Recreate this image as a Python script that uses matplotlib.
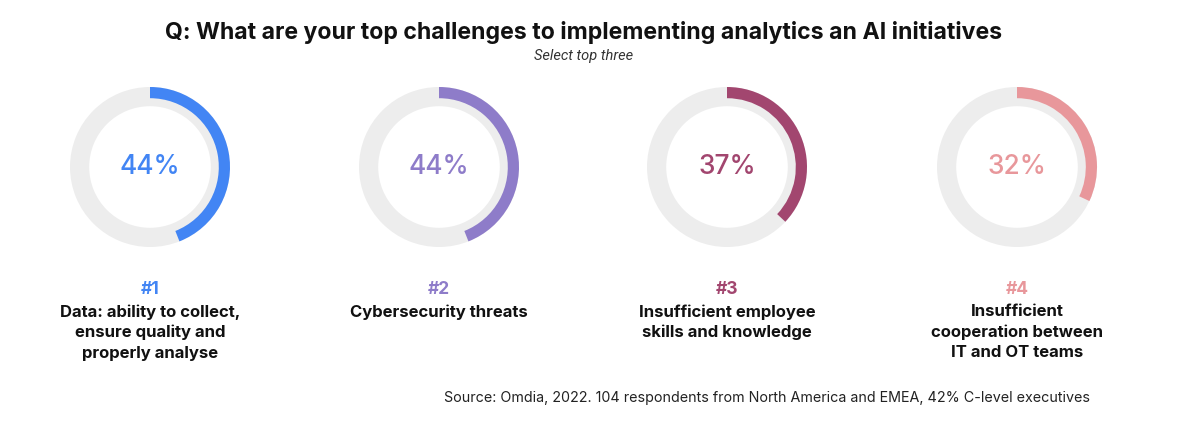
import matplotlib
matplotlib.use('Agg')
import matplotlib.pyplot as plt

# data
ranks = ['#1', '#2', '#3', '#4']
values = [44, 44, 37, 32]
labels = ['Data: ability to collect,\nensure quality and\nproperly analyse',
          'Cybersecurity threats',
          'Insufficient employee\nskills and knowledge',
          'Insufficient\ncooperation between\nIT and OT teams']
colors = ['#4285F4', '#8E7CC9', '#A2466F', '#E8979B']

W, H = 1200, 429
plt.rcParams['font.family'] = ['Inter', 'DejaVu Sans']

fig = plt.figure(figsize=(W / 100, H / 100), dpi=100)
fig.patch.set_facecolor('white')

def fx(x):
    return x / W

def fy(y):
    return 1 - y / H

centers_x = [150, 439, 727, 1017]
cy = 167
R = 80

for i in range(4):
    cx = centers_x[i]
    ax = fig.add_axes([fx(cx - R), fy(cy + R), 2 * R / W, 2 * R / H])
    # gray background ring
    ax.pie([100], radius=1, colors=['#EDEDED'], startangle=90,
           wedgeprops=dict(width=0.24, edgecolor='none'))
    # progress arc
    ax.pie([values[i], 100 - values[i]], radius=1, colors=[colors[i], 'none'],
           startangle=90, counterclock=False,
           wedgeprops=dict(width=0.14, edgecolor='none'))
    ax.set_xlim(-1, 1)
    ax.set_ylim(-1, 1)
    ax.set_aspect('equal')
    ax.axis('off')
    ax.text(0, 0, f'{values[i]}%', ha='center', va='center',
            fontsize=19, color=colors[i], fontweight='medium')

    fig.text(fx(cx), fy(289), ranks[i], ha='center', va='center',
             fontsize=12.5, fontweight='bold', color=colors[i])
    fig.text(fx(cx), fy(304), labels[i], ha='center', va='top',
             fontsize=12, fontweight='bold', color='#111111', linespacing=1.43)

fig.text(fx(584), fy(33), 'Q: What are your top challenges to implementing analytics an AI initiatives',
         ha='center', va='center', fontsize=16.6, fontweight='bold', color='#111111')
fig.text(fx(584), fy(56), 'Select top three', ha='center', va='center',
         fontsize=10.5, style='italic', color='#333333', family=['Roboto', 'DejaVu Sans'])
fig.text(fx(1090), fy(398), 'Source: Omdia, 2022. 104 respondents from North America and EMEA, 42% C-level executives',
         ha='right', va='center', fontsize=10.3, color='#222222')

fig.savefig('out.png', dpi=100, facecolor='white')
